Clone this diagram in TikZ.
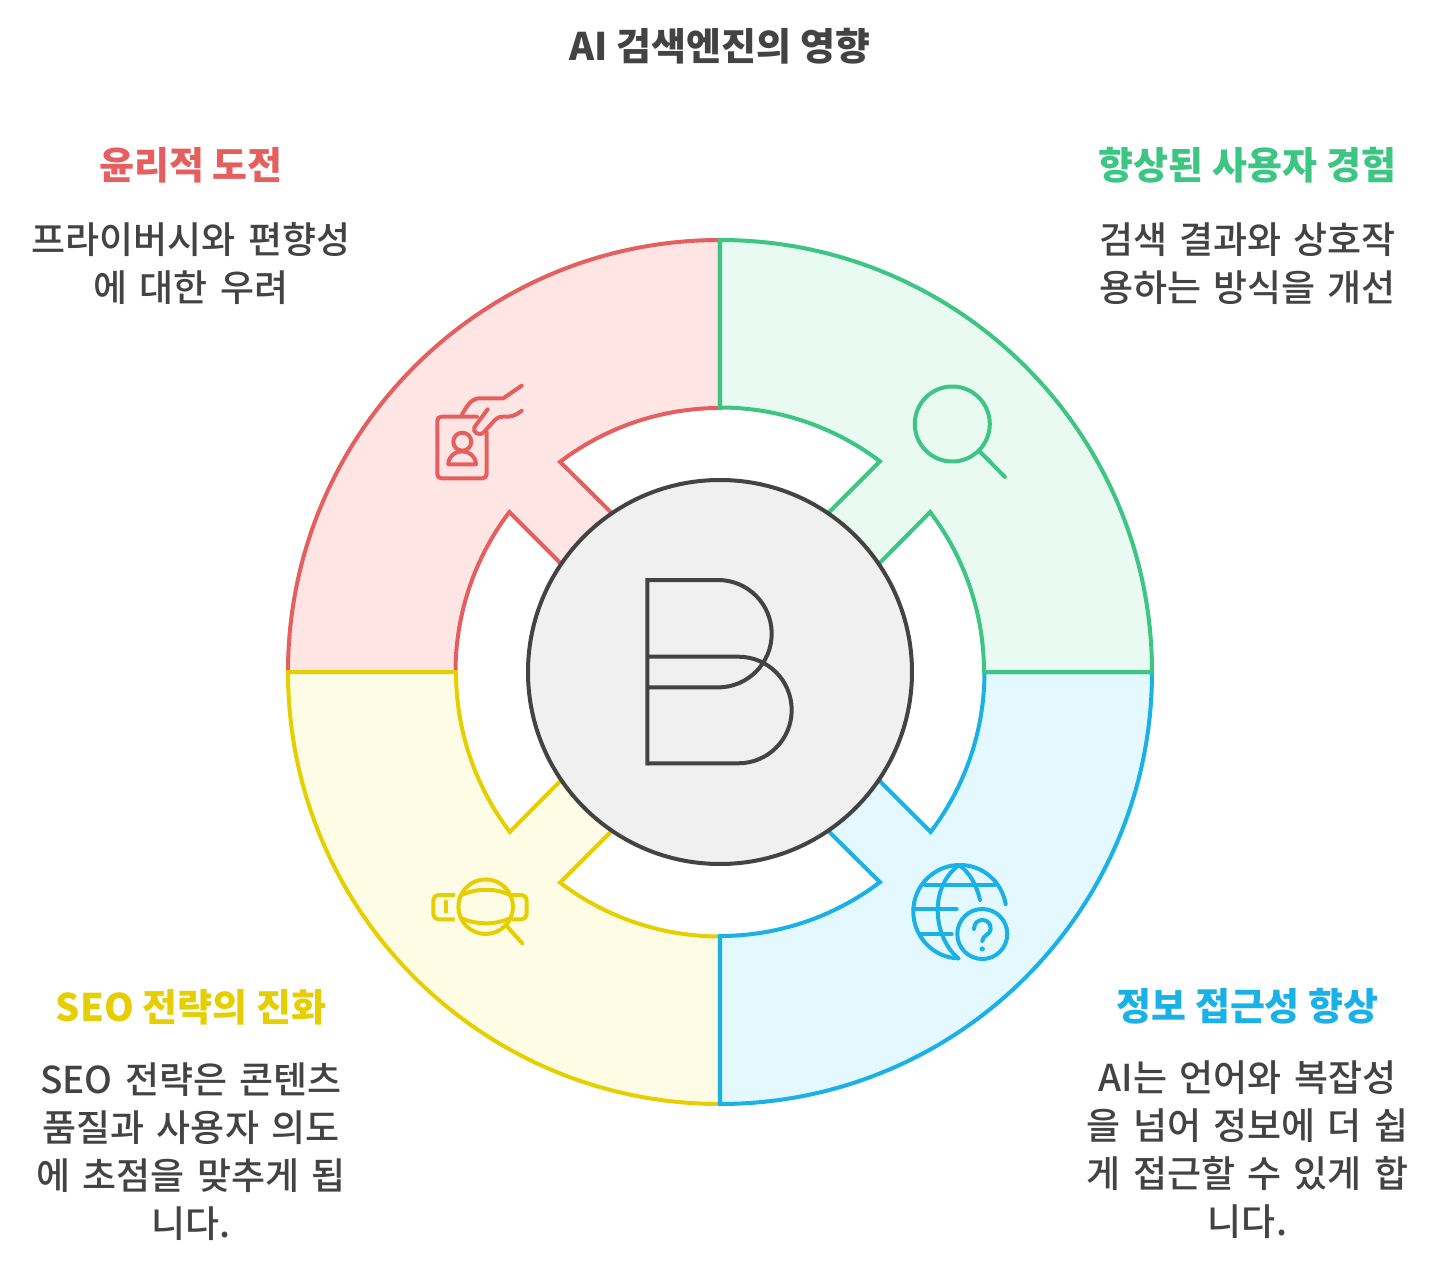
\documentclass[tikz,border=0pt]{standalone}
\usepackage{fontspec}
\setmainfont{Noto Sans CJK KR}[UprightFont=* Medium]
\usepackage{xcolor}
\definecolor{ink}{HTML}{434343}
\definecolor{cRed}{HTML}{E55F5F}
\definecolor{cRedBg}{HTML}{FFE6E5}
\definecolor{cGreen}{HTML}{3CC583}
\definecolor{cGreenBg}{HTML}{E8FAF2}
\definecolor{cBlue}{HTML}{1AB1E6}
\definecolor{cBlueBg}{HTML}{E3F8FF}
\definecolor{cYellow}{HTML}{E6CF00}
\definecolor{cYellowBg}{HTML}{FFFCE6}
\definecolor{hubBg}{HTML}{F0F0F0}
\usepackage{tikz}
\usetikzlibrary{positioning}
\begin{document}
\begin{tikzpicture}[
  x=1pt,y=1pt,
  font=\fontsize{37}{48}\selectfont,
  heading/.style={font=\fontsize{38}{48}\selectfont\bfseries,inner sep=0pt,text height=30pt,text depth=6pt},
  desc/.style={text=ink,align=center,inner sep=0pt,text width=340pt},
  petal/.style={line width=4pt},
  icon/.style={line width=4pt,line cap=round,line join=round},
  pixels/.style={shift={(-720,672)},y=-1pt}]
\useasboundingbox (-720,-600) rectangle (720,672);
\foreach \rot/\cLine/\cBg in {90/cRed/cRedBg,180/cYellow/cYellowBg,270/cBlue/cBlueBg,0/cGreen/cGreenBg}{
  \draw[petal,draw=\cLine,fill=\cBg,rotate=\rot]
    (90:432) arc[start angle=90,end angle=0,radius=432pt] -- (0:264)
    arc[start angle=0,end angle=37.2,radius=264.5pt] -- (32.5:166) -- (57.5:166) -- (52.8:264.5)
    arc[start angle=52.8,end angle=90,radius=264.5pt] -- cycle;
}
\node[circle,draw=ink,fill=hubBg,line width=4pt,minimum size=384pt,inner sep=0pt] (hub) at (0,0) {};
\begin{scope}[pixels]
\draw[ink,line width=4pt,line join=miter] (647.3,765.3) -- (647.3,580) -- (718,580)
  arc[start angle=90,end angle=-90,radius=53.7pt] -- (647.3,687.3);
\draw[ink,line width=4pt,line join=miter] (647.3,656.7) -- (738.4,656.7)
  arc[start angle=90,end angle=-90,radius=53.3pt] -- (647.3,763.3);
\draw[icon,draw=cGreen] (952.3,424) circle[radius=37.5pt];
\draw[icon,draw=cGreen] (980,451.7) -- (1005,477);
\draw[icon,draw=cRed,rounded corners=4pt] (477,416.7) -- (437.3,416.7) -- (437.3,478.3) -- (486.7,478.3) -- (486.7,432);
\draw[icon,draw=cRed] (462.3,441.7) circle[radius=9pt];
\draw[icon,draw=cRed] (448.3,464.3) .. controls (449,447) and (475,447) .. (476,464.3) -- cycle;
\draw[icon,draw=cRed] (461.7,415) .. controls (468,404) and (472,398.3) .. (480,398.3) -- (503.3,398.3) -- (521.7,385.7);
\draw[icon,draw=cRed] (487.7,409.3) -- (474.5,427) .. controls (472,432) and (479,437) .. (484,432)
  -- (494,421) .. controls (498,417) and (500,416.7) .. (504,416.7) .. controls (512,416.7) and (515,416) .. (521.7,410.7);
\draw[icon,draw=cYellow] (485.7,906.7) circle[radius=27.3pt];
\draw[icon,draw=cYellow] (507.3,926.7) -- (522.3,943.3);
\draw[icon,draw=cYellow,rounded corners=5pt,line cap=butt] (455,895) -- (433.3,895) -- (433.3,919.3) -- (455,919.3);
\draw[icon,draw=cYellow] (446,901.7) -- (446,911.7);
\draw[icon,draw=cYellow,rounded corners=5pt,line cap=butt] (511.7,895) -- (526.7,895) -- (526.7,919.3) -- (511.7,919.3);
\draw[icon,draw=cYellow] (461.7,895) .. controls (477,888) and (495,888) .. (510,895);
\draw[icon,draw=cYellow] (461.7,918.3) .. controls (477,925) and (495,925) .. (510,918.3);
\draw[icon,draw=cBlue] (1005.7,904.3) .. controls (1002,882) and (983,865) .. (960,865)
  .. controls (934,865) and (913.3,886) .. (913.3,911.5) .. controls (913.3,937) and (934,958) .. (958.3,958.3);
\draw[icon,draw=cBlue] (959.3,865) .. controls (945,875) and (937.7,892) .. (937.7,910) .. controls (937.7,930) and (946,948) .. (958.3,958.3);
\draw[icon,draw=cBlue] (959.3,865) .. controls (970,873) and (977,886) .. (980,900);
\draw[icon,draw=cBlue] (925,885) -- (995,885);
\draw[icon,draw=cBlue] (913.3,909.3) -- (956.7,909.3);
\draw[icon,draw=cBlue] (921.7,934) -- (951.7,934);
\draw[icon,draw=cBlue] (982.3,934) circle[radius=25pt];
\draw[icon,draw=cBlue] (974,929) .. controls (974,917) and (991,917) .. (990.7,929) .. controls (990.7,935) and (982.3,935) .. (982.3,941);
\fill[cBlue] (982.3,949) circle[radius=2.6pt];
\end{scope}
\node[heading,text=ink] (title) at (0,623) {AI 검색엔진의 영향};
\node[heading,text=cRed] (ethics) at (-529,504) {윤리적 도전};
\node[desc,below=36pt of ethics] (ethicsText) {프라이버시와 편향성\\에 대한 우려};
\node[heading,text=cGreen] (experience) at (527.5,504) {향상된 사용자 경험};
\node[desc,below=36pt of experience] (experienceText) {검색 결과와 상호작\\용하는 방식을 개선};
\node[heading,text=cYellow] (seo) at (-529,-337) {SEO 전략의 진화};
\node[desc,below=35pt of seo] (seoText) {SEO 전략은 콘텐츠\\품질과 사용자 의도\\에 초점을 맞추게 됩\\니다.};
\node[heading,text=cBlue] (access) at (527.5,-336) {정보 접근성 향상};
\node[desc,below=34pt of access] (accessText) {AI는 언어와 복잡성\\을 넘어 정보에 더 쉽\\게 접근할 수 있게 합\\니다.};
\end{tikzpicture}
\end{document}
